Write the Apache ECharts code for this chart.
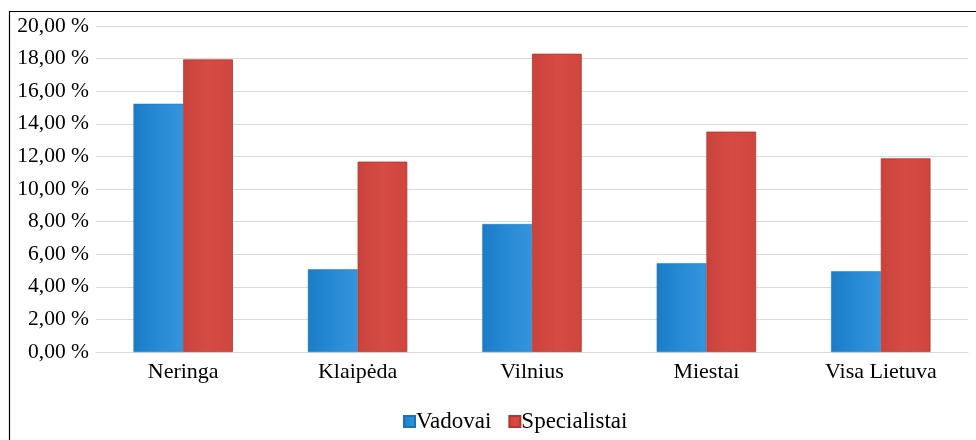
<!DOCTYPE html>
<html>
<head>
<meta charset="utf-8">
<script src="https://cdn.jsdelivr.net/npm/echarts@6/dist/echarts.min.js"></script>
<style>html,body{margin:0;padding:0;background:#fff}#c{width:976px;height:440px}</style>
</head>
<body>
<div id="c"></div>
<script>
const categories = ['Neringa', 'Klaipėda', 'Vilnius', 'Miestai', 'Visa Lietuva'];
const vadovai = [15.23, 5.07, 7.85, 5.44, 4.95];
const specialistai = [17.95, 11.68, 18.3, 13.52, 11.88];
const seriesNames = ['Vadovai', 'Specialistai'];

const FONT = '"Liberation Serif", "DejaVu Serif", serif';
const chart = echarts.init(document.getElementById('c'), null, {renderer: 'canvas'});
chart.setOption({
  animation: false,
  backgroundColor: '#ffffff',
  graphic: [{
    type: 'rect', left: 7, top: 9, silent: true, z: 100,
    shape: {x: 0, y: 0, width: 1100, height: 1000},
    style: {fill: 'none', stroke: '#000', lineWidth: 1.2}
  }],
  grid: {left: 96, right: 8, top: 26, bottom: 88, containLabel: false},
  legend: {
    data: seriesNames, bottom: 2, left: 398,
    itemWidth: 11, itemHeight: 11, itemGap: 17,
    icon: 'rect',
    textStyle: {fontFamily: FONT, fontSize: 23, color: '#000', padding: [0, 0, 0, -4]}
  },
  xAxis: {
    type: 'category', data: categories,
    axisLine: {show: true, lineStyle: {color: '#d9d9d9', width: 1}},
    axisTick: {show: false},
    axisLabel: {fontFamily: FONT, fontSize: 22, color: '#000', margin: 9}
  },
  yAxis: {
    type: 'value', min: 0, max: 20, interval: 2,
    axisLine: {show: false}, axisTick: {show: false},
    splitLine: {lineStyle: {color: '#d9d9d9', width: 1}},
    axisLabel: {
      fontFamily: FONT, fontSize: 21.5, color: '#000', margin: 7,
      formatter: v => v.toFixed(2).replace('.', ',') + ' %'
    }
  },
  series: [
    {
      name: seriesNames[0], type: 'bar', data: vadovai,
      barGap: '0%', barCategoryGap: '43%',
      itemStyle: {
        color: new echarts.graphic.LinearGradient(0, 0, 1, 0, [
          {offset: 0, color: '#1b7cc6'}, {offset: 0.5, color: '#268ad5'}, {offset: 1, color: '#3595dc'}
        ]),
        borderColor: '#1b72b8', borderWidth: 0.5
      }
    },
    {
      name: seriesNames[1], type: 'bar', data: specialistai,
      itemStyle: {
        color: new echarts.graphic.LinearGradient(0, 0, 1, 0, [
          {offset: 0, color: '#c8433c'}, {offset: 0.5, color: '#d64b44'}, {offset: 1, color: '#cf463f'}
        ]),
        borderColor: '#b0372f', borderWidth: 0.8
      }
    }
  ]
});
</script>
</body>
</html>
